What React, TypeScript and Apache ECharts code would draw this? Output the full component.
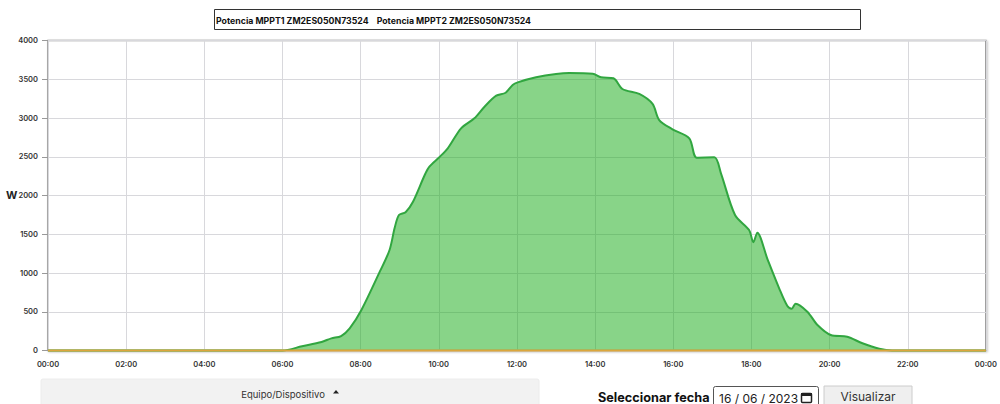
import React, { useEffect, useRef } from "react";
import * as echarts from "echarts";

const legendNames = ["Potencia MPPT1 ZM2ES050N73524", "Potencia MPPT2 ZM2ES050N73524"];
const hours = [0, 6, 6.5, 7, 7.25, 7.5, 7.72, 8.02, 8.49, 8.74, 8.87, 8.98, 9.15, 9.34, 9.64, 9.76, 10, 10.23, 10.57, 10.91, 11.17, 11.47, 11.71, 11.89, 12.02, 12.49, 13, 13.34, 13.94, 14.15, 14.47, 14.7, 15.13, 15.47, 15.64, 15.98, 16.41, 16.6, 17.05, 17.22, 17.58, 17.94, 18.05, 18.15, 18.41, 18.71, 18.92, 19.03, 19.13, 19.43, 19.69, 20.03, 20.45, 20.84, 21.27, 21.6, 24];
const mppt1 = [0, 0, 55, 110, 157, 187, 286, 523, 1017, 1297, 1580, 1748, 1785, 1920, 2265, 2372, 2488, 2609, 2867, 2996, 3146, 3288, 3326, 3426, 3460, 3525, 3568, 3581, 3572, 3525, 3512, 3374, 3310, 3181, 2974, 2854, 2738, 2488, 2492, 2286, 1748, 1555, 1396, 1520, 1180, 803, 574, 540, 604, 501, 329, 200, 178, 93, 23, 0, 0];
const mppt2Hours = [0, 24];
const mppt2 = [0, 0];
const yTicks = { min: 0, max: 4000, interval: 500 };
const yTitle = "W";
const deviceLabel = "Equipo/Dispositivo";
const dateLabel = "Seleccionar fecha";
const dateValue = "16 / 06 / 2023";
const buttonLabel = "Visualizar";

const hourLabel = (v: number) => `${String(v % 24).padStart(2, "0")}:00`;

export default function App() {
  const ref = useRef<HTMLDivElement>(null);
  useEffect(() => {
    const chart = echarts.init(ref.current!, undefined, { renderer: "svg" });
    const font = "Inter";
    chart.setOption({
      animation: false,
      backgroundColor: "#ffffff",
      textStyle: { fontFamily: font },
      grid: { left: 48, right: 13, top: 40.5, height: 310, show: true, borderColor: "#8f8f8f", borderWidth: 1.5, backgroundColor: "#ffffff", shadowColor: "rgba(0,0,0,0.25)", shadowBlur: 2, shadowOffsetY: 1, shadowOffsetX: 1 },
      legend: {
        left: 212, top: 14, icon: "none", itemWidth: 0, itemHeight: 0, itemGap: 6, padding: [2, 2],
        selectedMode: false,
        textStyle: { fontFamily: font, fontSize: 8.75, fontWeight: 700, color: "#111111", padding: [0, 0, 0, -3] },
        data: legendNames,
      },
      xAxis: {
        type: "value", min: 0, max: 24, interval: 2,
        axisLine: { show: false },
        axisTick: { show: false },
        splitLine: { show: true, lineStyle: { color: "#d8d8dc", width: 1 } },
        axisLabel: { formatter: hourLabel, fontSize: 7.5, fontWeight: 600, color: "#333333", margin: 10, fontFamily: font },
      },
      yAxis: {
        type: "value", ...yTicks,
        axisLine: { show: false },
        axisTick: { show: true, length: 6, lineStyle: { color: "#999999" } },
        splitLine: { show: true, lineStyle: { color: "#d8d8dc", width: 1 } },
        axisLabel: { formatter: (v: number) => String(v), fontSize: 7.5, fontWeight: 600, color: "#333333", margin: 10, fontFamily: font },
      },
      series: [
        {
          name: legendNames[0], type: "line", symbol: "none", smooth: 0.3, clip: false,
          data: hours.map((h, i) => [h, mppt1[i]]),
          lineStyle: { color: "#31a640", width: 2 },
          itemStyle: { color: "#31a640" },
          areaStyle: { color: "rgba(17,169,17,0.5)", opacity: 1 },
        },
        {
          name: legendNames[1], type: "line", symbol: "none", clip: false,
          data: mppt2Hours.map((h, i) => [h, mppt2[i]]),
          lineStyle: { color: "#dca63c", width: 2 },
          itemStyle: { color: "#dca63c" },
        },
      ],
      graphic: [
        { type: "rect", z: 0, shape: { x: 214.5, y: 9.5, width: 646, height: 20 }, style: { fill: "#ffffff", stroke: "#333333", lineWidth: 1 } },
        { type: "text", x: 6, y: 189, style: { text: yTitle, font: `700 11px ${font}`, fill: "#222222" } },
        { type: "rect", shape: { x: 41, y: 379, width: 498, height: 30, r: 2 }, style: { fill: "#f2f2f2", stroke: "#ececec" } },
        { type: "text", x: 283, y: 394, style: { text: deviceLabel, font: `400 9.5px ${font}`, fill: "#333333", align: "center", verticalAlign: "middle" } },
        { type: "polygon", shape: { points: [[333, 393.5], [339, 393.5], [336, 390]] }, style: { fill: "#222222" } },
        { type: "text", x: 598, y: 397, style: { text: dateLabel, font: `700 12.7px ${font}`, fill: "#111111", verticalAlign: "middle" } },
        { type: "rect", shape: { x: 713.5, y: 386.5, width: 105, height: 24, r: 2 }, style: { fill: "#ffffff", stroke: "#555555" } },
        { type: "text", x: 719, y: 398, style: { text: dateValue, font: `400 12px ${font}`, fill: "#222222", verticalAlign: "middle" } },
        { type: "rect", shape: { x: 801.5, y: 393.5, width: 10, height: 9, r: 1 }, style: { fill: "#ffffff", stroke: "#222222", lineWidth: 1.5 } },
        { type: "rect", shape: { x: 801, y: 393, width: 11, height: 3 }, style: { fill: "#222222" } },
        { type: "rect", shape: { x: 824, y: 386, width: 88, height: 24 }, style: { fill: "#efefef", stroke: "#cccccc" } },
        { type: "text", x: 868, y: 396, style: { text: buttonLabel, font: `400 12px ${font}`, fill: "#333333", align: "center", verticalAlign: "middle" } },
      ],
    });
    return () => chart.dispose();
  }, []);
  return (
    <div style={{ position: "fixed", left: 0, top: 0, width: 1000, height: 404, overflow: "hidden", background: "#fff" }}>
      <div ref={ref} style={{ width: 1000, height: 404 }} />
    </div>
  );
}
